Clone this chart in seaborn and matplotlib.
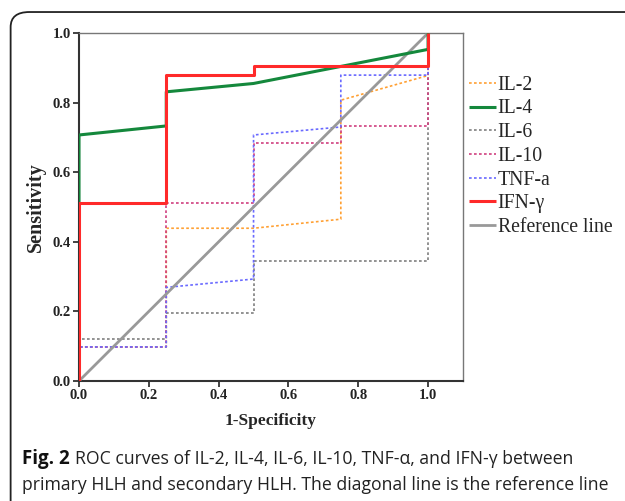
import numpy as np
import pandas as pd
import matplotlib
matplotlib.use("Agg")
import matplotlib.pyplot as plt
import seaborn as sns
from matplotlib.patches import FancyBboxPatch

# curve data (1-specificity, sensitivity)
il2_x = [0.0, 0.0, 0.25, 0.25, 0.50, 0.75, 0.75, 1.0, 1.0]
il2_y = [0.0, 0.098, 0.098, 0.439, 0.439, 0.465, 0.807, 0.878, 1.0]
il4_x = [0.0, 0.0, 0.25, 0.25, 0.50, 1.0, 1.0]
il4_y = [0.0, 0.707, 0.733, 0.831, 0.855, 0.953, 1.0]
il6_x = [0.0, 0.0, 0.25, 0.25, 0.50, 0.50, 1.0, 1.0]
il6_y = [0.0, 0.122, 0.122, 0.195, 0.195, 0.344, 0.344, 1.0]
il10_x = [0.0, 0.0, 0.25, 0.25, 0.50, 0.50, 0.75, 0.75, 1.0, 1.0]
il10_y = [0.0, 0.098, 0.098, 0.512, 0.512, 0.683, 0.683, 0.732, 0.732, 1.0]
tnf_x = [0.0, 0.0, 0.25, 0.25, 0.50, 0.50, 0.75, 0.75, 1.0, 1.0]
tnf_y = [0.0, 0.098, 0.098, 0.269, 0.293, 0.707, 0.730, 0.879, 0.879, 1.0]
ifn_x = [0.0, 0.0, 0.25, 0.25, 0.50, 0.50, 1.0, 1.0]
ifn_y = [0.0, 0.512, 0.512, 0.879, 0.879, 0.905, 0.905, 1.0]
ref_x = [0.0, 1.0]
ref_y = [0.0, 1.0]

labels = ["IL-2", "IL-4", "IL-6", "IL-10", "TNF-a", "IFN-γ", "Reference line"]

sns.set_style("white")
plt.rcParams["font.family"] = ["Liberation Serif", "DejaVu Serif"]

fig = plt.figure(figsize=(6.25, 5.01), dpi=100)
ax = fig.add_axes([0.1264, 0.2395, 0.6144, 0.6946])

dot = (0, (1.6, 1.4))
curves = [
    # x, y, label, color, style, width, z
    (il2_x, il2_y, "IL-2", "#ffa033", dot, 1.2, 2),
    (il6_x, il6_y, "IL-6", "#7f7f7f", dot, 1.2, 2),
    (il10_x, il10_y, "IL-10", "#d0407f", dot, 1.2, 3),
    (tnf_x, tnf_y, "TNF-a", "#6a6aff", dot, 1.2, 3),
    (ref_x, ref_y, "Reference line", "#999999", "-", 2.0, 4),
    (il4_x, il4_y, "IL-4", "#14883c", "-", 2.2, 5),
    (ifn_x, ifn_y, "IFN-γ", "#ff2a2a", "-", 2.2, 6),
]
handles = {}
for x, y, lab, col, ls, lw, z in curves:
    df = pd.DataFrame({"x": x, "y": y})
    sns.lineplot(data=df, x="x", y="y", sort=False, estimator=None,
                 color=col, linewidth=lw, ax=ax, zorder=z)
    line = ax.get_lines()[-1]
    line.set_linestyle(ls)
    line.set_solid_capstyle("butt")
    handles[lab] = line

ax.set_xlim(0, 1.1)
ax.set_ylim(0, 1.0)
ax.set_xticks(np.arange(0, 1.01, 0.2))
ax.set_yticks(np.arange(0, 1.01, 0.2))
ax.set_xticklabels([f"{v:.1f}" for v in np.arange(0, 1.01, 0.2)])
ax.set_yticklabels([f"{v:.1f}" for v in np.arange(0, 1.01, 0.2)])
ax.tick_params(axis="both", direction="out", length=4, width=1.2,
               labelsize=10.5, pad=2, left=True, bottom=True, colors="#222222")
for t in ax.get_xticklabels() + ax.get_yticklabels():
    t.set_fontweight("bold")
    t.set_color("#222222")
for s in ["left", "bottom"]:
    ax.spines[s].set_linewidth(1.5)
    ax.spines[s].set_color("#333333")
for s in ["top", "right"]:
    ax.spines[s].set_linewidth(1.0)
    ax.spines[s].set_color("#777777")

ax.set_xlabel("1-Specificity", fontsize=12.5, fontweight="bold", labelpad=8)
ax.set_ylabel("Sensitivity", fontsize=14.5, fontweight="bold", labelpad=5)

leg = ax.legend([handles[l] for l in labels], labels, loc="upper left",
                bbox_to_anchor=(0.995, 0.9), frameon=False, fontsize=14.2,
                handlelength=1.35, handletextpad=0.1, labelspacing=0.24,
                borderaxespad=0.0)

# rounded frame round the figure
frame = FancyBboxPatch((0.017, -0.05), 1.1, 1.026,
                       boxstyle="round,pad=0,rounding_size=0.03",
                       transform=fig.transFigure, fill=False,
                       edgecolor="#222222", linewidth=1.3, clip_on=False)
fig.patches.append(frame)

# caption
cap_font = ["Open Sans", "DejaVu Sans"]
t1 = fig.text(0.035, 0.074, "Fig. 2", fontsize=13.5, fontweight="bold",
              family=cap_font, color="#111111")
fig.canvas.draw()
bb = t1.get_window_extent(fig.canvas.get_renderer())
x_next = bb.x1 / fig.bbox.width + 0.009
fig.text(x_next, 0.074, "ROC curves of IL-2, IL-4, IL-6, IL-10, TNF-α, and IFN-γ between",
         fontsize=12.7, family=cap_font, color="#222222")
fig.text(0.035, 0.021, "primary HLH and secondary HLH. The diagonal line is the reference line",
         fontsize=12.7, family=cap_font, color="#222222")

fig.savefig("out.png", dpi=100)
